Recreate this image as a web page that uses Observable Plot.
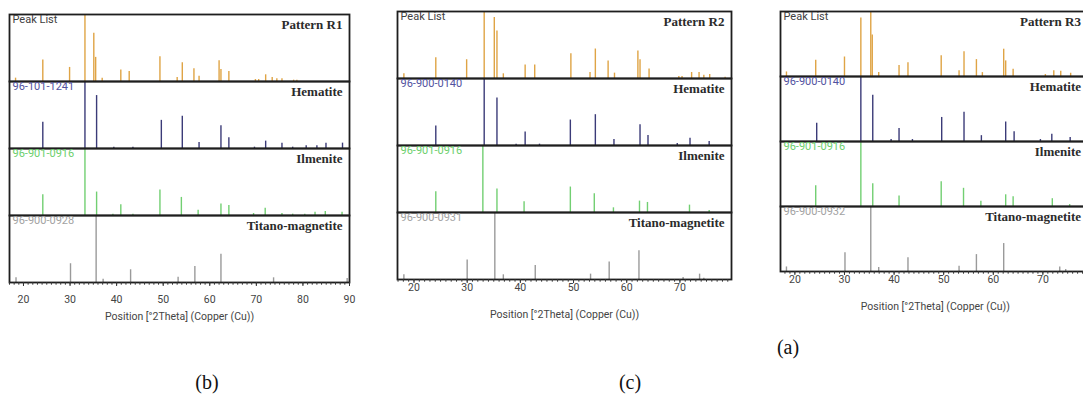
<!DOCTYPE html>
<html>
<head>
<meta charset="utf-8">
<script src="https://cdn.jsdelivr.net/npm/d3@7"></script>
<script src="https://cdn.jsdelivr.net/npm/@observablehq/plot@0.6"></script>
<style>
html,body{margin:0;padding:0;background:#fff;overflow:hidden;width:1083px;height:396px}
#root{position:relative;width:1083px;height:396px;overflow:hidden}
.panel{position:absolute}
.panel svg{max-width:none !important}
.cap{position:absolute;font-family:"Liberation Serif","Times New Roman",serif;font-size:20px;color:#111;transform:translate(-50%,-50%);white-space:nowrap}
</style>
</head>
<body>
<div id="root"></div>
<script>
// ---------- data (position °2θ, relative intensity %) ----------
const rows = ["Peak List", "Hematite", "Ilmenite", "Titano-magnetite"];

// Panel (b) — Pattern R1
const r1Codes = ["Peak List", "96-101-1241", "96-901-0916", "96-900-0928"];
const r1Peaks = [[18.3,5],[24.15,32],[29.9,21],[33.2,100],[35.1,72],[35.5,36],[36.9,5],[40.9,17],[42.7,15],[49.3,37],[53.0,6],[54.1,28],[56.6,19],[57.7,8],[62.0,31],[62.4,18],[64.1,15],[69.8,3],[70.5,3],[72.0,10],[73.4,6],[74.4,4],[75.5,4],[78.0,2],[78.7,2]];
const r1Hem = [[24.15,39],[33.2,100],[35.7,79],[39.4,2],[43.5,2],[49.6,42],[54.1,48],[57.7,9],[62.4,34],[64.1,16],[69.6,2],[72.0,11],[75.5,8],[77.8,2],[80.7,4],[83.0,4],[84.95,8],[88.5,8]];
const r1Ilm = [[24.15,31],[33.2,100],[35.7,35],[39.2,2],[40.9,16],[43.5,2],[49.3,38],[53.9,27],[57.5,8],[62.4,17],[64.1,15],[69.4,3],[71.9,11],[75.5,3],[77.8,2],[80.4,2],[82.6,5],[84.8,6],[88.4,5]];
const r1Mag = [[18.4,7],[30.1,28],[35.6,100],[37.1,5],[43.0,19],[53.2,8],[56.8,24],[62.4,42],[73.7,7],[89.5,6]];

// Panel (c) — Pattern R2
const r2Codes = ["Peak List", "96-900-0140", "96-901-0916", "96-900-0931"];
const r2Peaks = [[18.1,7],[24.1,31],[29.9,28],[33.2,100],[35.1,91],[35.6,71],[36.8,7],[40.9,20],[42.7,20],[49.5,37],[53.1,9],[54.1,44],[56.5,26],[57.7,8],[62.1,41],[62.5,28],[64.2,14],[69.8,3],[70.4,3],[72.2,9],[73.6,9],[74.5,5],[75.6,6],[78.5,2]];
const r2Hem = [[24.1,29],[33.2,100],[35.6,71],[39.2,2],[40.9,20],[43.6,2],[49.4,38],[54.1,46],[57.6,9],[62.5,31],[64.0,15],[69.5,3],[71.9,11],[75.5,6]];
const r2Ilm = [[24.1,31],[32.95,100],[35.6,35],[40.7,16],[49.4,38],[53.9,28],[57.5,7],[62.4,17],[63.9,15],[71.8,11],[75.5,3]];
const r2Mag = [[18.1,7],[30.0,29],[35.2,100],[36.8,7],[42.8,21],[53.2,8],[56.7,26],[62.3,43],[70.6,3],[73.7,8],[74.5,2]];

// Panel (a) — Pattern R3
const r3Codes = ["Peak List", "96-900-0140", "96-901-0916", "96-900-0932"];
const r3Peaks = [[18.3,7],[24.2,25],[30.0,30],[33.3,90],[35.3,100],[35.6,64],[36.9,6],[41.0,17],[42.8,21],[49.5,32],[53.1,9],[54.1,38],[56.6,26],[57.8,6],[62.1,42],[62.5,24],[64.0,11],[70.5,3],[72.2,9],[73.6,8],[75.6,5]];
const r3Hem = [[24.4,28],[33.3,100],[35.7,71],[39.4,3],[41.0,20],[43.7,3],[49.6,37],[54.1,45],[57.6,9],[62.5,30],[64.2,15],[69.5,3],[71.8,11],[75.5,6]];
const r3Ilm = [[24.2,32],[33.3,100],[35.7,35],[41.0,16],[49.5,38],[54.0,28],[57.5,8],[62.5,18],[64.0,15],[71.9,12],[75.4,3]];
const r3Mag = [[18.3,7],[30.1,29],[35.3,100],[36.9,6],[42.8,21],[53.1,8],[56.6,26],[62.1,43],[73.4,7],[74.6,3]];

const axisTitle = "Position [°2Theta] (Copper (Cu))";

// ---------- styles ----------
const stickColor = {"Peak List": "#dfa445", "Hematite": "#3b3b78", "Ilmenite": "#72cf72", "Titano-magnetite": "#9a9a9a"};
const codeColor  = {"Peak List": "#404040", "Hematite": "#5252a0", "Ilmenite": "#6ccf6c", "Titano-magnetite": "#a2a2a2"};

const panels = [
  {cap: "(b)", capX: 207, capY: 382, left: 0, width: 354, height: 330, mL: 9, mR: 5, mT: 13, mB: 48,
   domain: [17, 90], pattern: "Pattern R1", codes: r1Codes, series: [r1Peaks, r1Hem, r1Ilm, r1Mag],
   tickPad: 9, labelOffset: 37, nameDx: -7},
  {cap: "(c)", capX: 630, capY: 382, left: 360, width: 380, height: 330, mL: 37, mR: 9, mT: 10, mB: 50,
   domain: [16.9, 79.7], pattern: "Pattern R2", codes: r2Codes, series: [r2Peaks, r2Hem, r2Ilm, r2Mag],
   tickPad: 0, labelOffset: 38, nameDx: -7},
  {cap: "(a)", capX: 788, capY: 347, left: 740, width: 360, height: 330, mL: 40, mR: 10.5, mT: 9, mB: 58,
   domain: [17.1, 79.5], pattern: "Pattern R3", codes: r3Codes, series: [r3Peaks, r3Hem, r3Ilm, r3Mag],
   tickPad: 0, labelOffset: 38, nameDx: -9}
];

const root = document.getElementById("root");

for (const p of panels) {
  const sticks = [];
  p.series.forEach((s, i) => s.forEach(([pos, int]) => sticks.push({row: rows[i], pos, int, col: stickColor[rows[i]]})));
  const codeLabels = rows.map((r, i) => ({row: r, text: p.codes[i], col: codeColor[r]}));
  const names = [p.pattern, "Hematite", "Ilmenite", "Titano-magnetite"];
  const nameLabels = rows.map((r, i) => ({row: r, text: names[i]}));
  const lo = Math.ceil(p.domain[0]), hi = Math.floor(p.domain[1]);
  const minor = d3.range(lo, hi + 1);
  const major = minor.filter(v => v % 10 === 0);

  const chart = Plot.plot({
    width: p.width, height: p.height,
    marginLeft: p.mL, marginRight: p.mR, marginTop: p.mT, marginBottom: p.mB,
    style: {fontFamily: "Roboto, 'Open Sans', sans-serif", background: "transparent", overflow: "visible", maxWidth: "none"},
    x: {domain: p.domain, label: null},
    y: {domain: [0, 100], axis: null},
    fy: {domain: rows, axis: null, padding: 0},
    color: {type: "identity"},
    marks: [
      Plot.ruleX(sticks, {x: "pos", y1: 0, y2: "int", fy: "row", stroke: "col", strokeWidth: 1.4}),
      Plot.frame({stroke: "#1e1e1e", strokeWidth: 1.8}),
      Plot.text(codeLabels, {fy: "row", text: "text", fill: "col", frameAnchor: "top-left", dx: 3, dy: 1, fontSize: 11}),
      Plot.text(nameLabels, {fy: "row", text: "text", fill: "#2b2b2b", frameAnchor: "top-right", dx: p.nameDx, dy: 5,
        fontSize: 13, fontWeight: "bold", fontFamily: "'Liberation Serif', 'Times New Roman', serif"}),
      Plot.axisX(minor, {tickSize: 2.7, tickFormat: () => "", stroke: "#333", label: null}),
      Plot.axisX(major, {tickSize: 4, tickPadding: p.tickPad, fontSize: 10.5, fill: "#444", stroke: "#333",
        label: axisTitle, labelAnchor: "center", labelOffset: p.labelOffset, labelArrow: "none"})
    ]
  });
  const wrap = document.createElement("div");
  wrap.className = "panel";
  wrap.style.left = p.left + "px";
  wrap.style.top = "0px";
  wrap.style.width = p.width + "px";
  wrap.style.height = p.height + "px";
  wrap.appendChild(chart);
  root.appendChild(wrap);

  const cap = document.createElement("div");
  cap.className = "cap";
  cap.style.left = p.capX + "px";
  cap.style.top = p.capY + "px";
  cap.textContent = p.cap;
  root.appendChild(cap);
}
</script>
</body>
</html>
